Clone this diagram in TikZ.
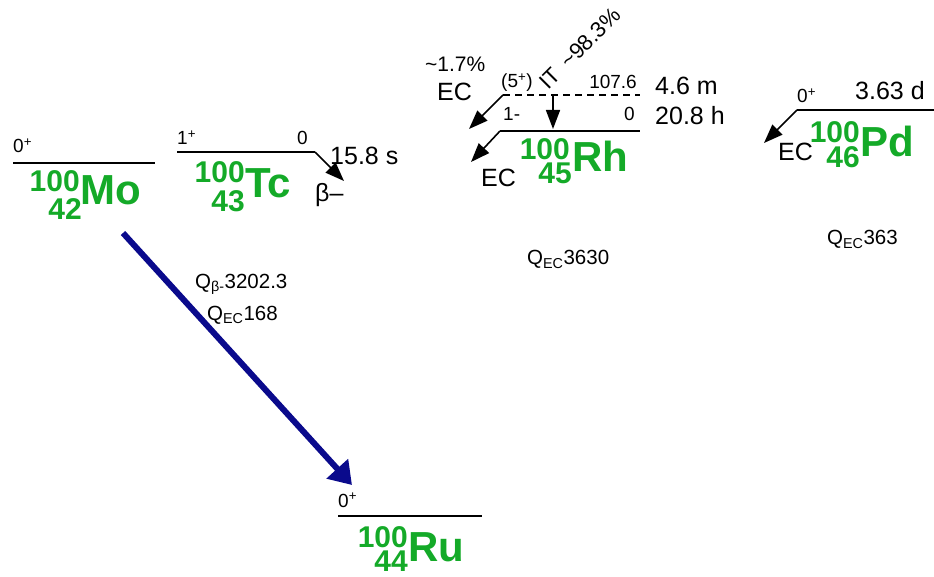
\documentclass[tikz,border=0pt]{standalone}
\usepackage{fontspec}
\setmainfont{Liberation Sans}
\usetikzlibrary{arrows.meta}
\definecolor{nucgreen}{RGB}{20,170,40}
\definecolor{navyarrow}{RGB}{10,10,140}
\begin{document}
\begin{tikzpicture}[x=1pt,y=-1pt,
 sym/.style={font=\fontsize{42}{42}\selectfont\bfseries, text=nucgreen, inner sep=0pt},
 num/.style={font=\fontsize{30}{30}\selectfont\bfseries, text=nucgreen, inner sep=0pt},
 spin/.style={font=\fontsize{19}{19}\selectfont, inner sep=0pt},
 half/.style={font=\fontsize{25}{25}\selectfont, inner sep=0pt},
 qlab/.style={font=\fontsize{20.5}{20.5}\selectfont, inner sep=0pt},
 level/.style={line width=2pt},
 decay/.style={line width=1.6pt, -{Triangle[length=19pt,width=14pt]}},
 bigarrow/.style={draw=navyarrow, line width=6pt, -{Triangle[length=22pt,width=28pt]}},
]
\useasboundingbox (0,0) rectangle (934,577);
% nuclide labels
\node[sym, anchor=base west] (Mo) at (80,205) {Mo};
\node[num, anchor=base east] (MoA) at (80,192) {100};
\node[num, anchor=base east] (MoZ) at (82,220) {42};
\node[sym, anchor=base west] (Tc) at (245,198) {Tc};
\node[num, anchor=base east] (TcA) at (245,183) {100};
\node[num, anchor=base east] (TcZ) at (245,212) {43};
\node[sym, anchor=base west] (Rh) at (572,172) {Rh};
\node[num, anchor=base east] (RhA) at (570,160) {100};
\node[num, anchor=base east] (RhZ) at (572,184) {45};
\node[sym, anchor=base west] (Pd) at (860,157) {Pd};
\node[num, anchor=base east] (PdA) at (860,143) {100};
\node[num, anchor=base east] (PdZ) at (860,168) {46};
\node[sym, anchor=base west] (Ru) at (408,561) {Ru};
\node[num, anchor=base east] (RuA) at (408,547) {100};
\node[num, anchor=base east] (RuZ) at (408,571) {44};
% level coordinates
\coordinate (MoL) at (13,163); \coordinate (MoR) at (155,163);
\coordinate (TcL) at (177,152); \coordinate (TcR) at (315,152);
\coordinate (RhmL) at (503,95); \coordinate (RhmR) at (640,95);
\coordinate (RhgL) at (500,131); \coordinate (RhgR) at (640,131);
\coordinate (PdL) at (797,110); \coordinate (PdR) at (934,110);
\coordinate (RuL) at (338,516); \coordinate (RuR) at (482,516);
\coordinate (ITtop) at (553,96); \coordinate (ITbot) at (553,129);
\coordinate (TcEnd) at (344,181);
\coordinate (RhmEnd) at (469,129);
\coordinate (RhgEnd) at (471,162);
\coordinate (PdEnd) at (764,143);
\coordinate (BigStart) at (123,233); \coordinate (BigEnd) at (352,485);
% levels
\draw[level] (MoL) -- (MoR);
\draw[level] (TcL) -- (TcR);
\draw[level, dash pattern=on 7pt off 5pt] (RhmL) -- (RhmR);
\draw[level] (RhgL) -- (RhgR);
\draw[level] (PdL) -- (PdR);
\draw[level] (RuL) -- (RuR);
% decays
\draw[decay] (TcR) -- (TcEnd);
\draw[decay] (RhmL) -- (RhmEnd);
\draw[decay] (RhgL) -- (RhgEnd);
\draw[decay] (ITtop) -- (ITbot);
\draw[decay] (PdL) -- (PdEnd);
\draw[bigarrow] (BigStart) -- (BigEnd);
% spins and energies
\node[spin, anchor=base west] (MoJ) at (13,153) {0\textsuperscript{+}};
\node[spin, anchor=base west] (TcJ) at (177,145) {1\textsuperscript{+}};
\node[spin, anchor=base east] (TcE) at (308,145) {0};
\node[spin, anchor=base west] (RhmJ) at (501,88) {(5\textsuperscript{+})};
\node[spin, anchor=base east] (RhmE) at (637,89) {107.6};
\node[spin, anchor=base west] (RhgJ) at (503,121) {1-};
\node[spin, anchor=base east] (RhgE) at (635,121) {0};
\node[spin, anchor=base west] (PdJ) at (797,103) {0\textsuperscript{+}};
\node[spin, anchor=base west] (RuJ) at (338,507) {0\textsuperscript{+}};
% half lives
\node[half, anchor=base west] (TcT) at (330,165) {15.8 s};
\node[half, anchor=base west] (RhmT) at (655,95) {4.6 m};
\node[half, anchor=base west] (RhgT) at (655,125) {20.8 h};
\node[half, anchor=base west] (PdT) at (855,100) {3.63 d};
% decay modes
\node[half, anchor=base west] (TcB) at (315,202) {β–};
\node[half, anchor=base west] (RhmEC) at (437,101) {EC};
\node[spin, anchor=base west, font=\fontsize{21}{21}\selectfont] (RhmBr) at (425,72) {\textasciitilde 1.7\%};
\node[half, anchor=base west] (RhgEC) at (481,187) {EC};
\node[half, anchor=base west] (PdEC) at (778,161) {EC};
\node[spin, anchor=base west, rotate=45, font=\fontsize{22}{22}\selectfont] (RhIT) at (548,91) {IT\hspace{10pt}\textasciitilde 98.3\%};
% Q values
\node[qlab, anchor=base west] (QMoB) at (195,288) {Q\textsubscript{β-}3202.3};
\node[qlab, anchor=base west] (QMoE) at (207,320) {Q\textsubscript{EC}168};
\node[qlab, anchor=base west] (QRh) at (527,265) {Q\textsubscript{EC}3630};
\node[qlab, anchor=base west] (QPd) at (827,245) {Q\textsubscript{EC}363};
\end{tikzpicture}
\end{document}
